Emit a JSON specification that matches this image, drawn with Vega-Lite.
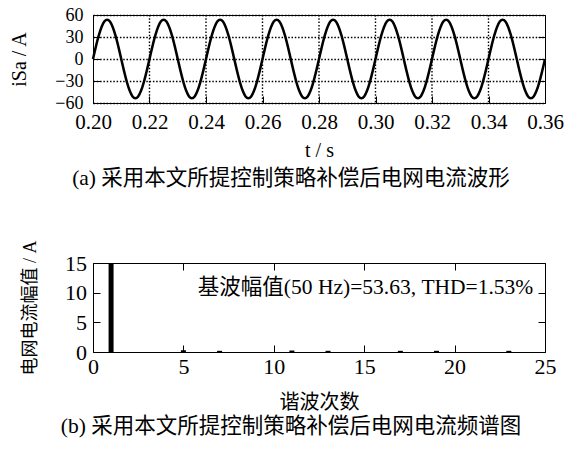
{
  "$schema": "https://vega.github.io/schema/vega-lite/v6.json",
  "padding": {"left": 9, "top": 5, "right": 5, "bottom": 5},
  "datasets": {
    "wave": [
      {"t":0.200,"i":0},{"t":0.201,"i":16.57},{"t":0.202,"i":31.52},{"t":0.203,"i":43.39},{"t":0.204,"i":51.01},{"t":0.205,"i":53.63},{"t":0.206,"i":51.01},{"t":0.207,"i":43.39},{"t":0.208,"i":31.52},{"t":0.209,"i":16.57},
      {"t":0.210,"i":0},{"t":0.211,"i":-16.57},{"t":0.212,"i":-31.52},{"t":0.213,"i":-43.39},{"t":0.214,"i":-51.01},{"t":0.215,"i":-53.63},{"t":0.216,"i":-51.01},{"t":0.217,"i":-43.39},{"t":0.218,"i":-31.52},{"t":0.219,"i":-16.57},
      {"t":0.220,"i":0},{"t":0.221,"i":16.57},{"t":0.222,"i":31.52},{"t":0.223,"i":43.39},{"t":0.224,"i":51.01},{"t":0.225,"i":53.63},{"t":0.226,"i":51.01},{"t":0.227,"i":43.39},{"t":0.228,"i":31.52},{"t":0.229,"i":16.57},
      {"t":0.230,"i":0},{"t":0.231,"i":-16.57},{"t":0.232,"i":-31.52},{"t":0.233,"i":-43.39},{"t":0.234,"i":-51.01},{"t":0.235,"i":-53.63},{"t":0.236,"i":-51.01},{"t":0.237,"i":-43.39},{"t":0.238,"i":-31.52},{"t":0.239,"i":-16.57},
      {"t":0.240,"i":0},{"t":0.241,"i":16.57},{"t":0.242,"i":31.52},{"t":0.243,"i":43.39},{"t":0.244,"i":51.01},{"t":0.245,"i":53.63},{"t":0.246,"i":51.01},{"t":0.247,"i":43.39},{"t":0.248,"i":31.52},{"t":0.249,"i":16.57},
      {"t":0.250,"i":0},{"t":0.251,"i":-16.57},{"t":0.252,"i":-31.52},{"t":0.253,"i":-43.39},{"t":0.254,"i":-51.01},{"t":0.255,"i":-53.63},{"t":0.256,"i":-51.01},{"t":0.257,"i":-43.39},{"t":0.258,"i":-31.52},{"t":0.259,"i":-16.57},
      {"t":0.260,"i":0},{"t":0.261,"i":16.57},{"t":0.262,"i":31.52},{"t":0.263,"i":43.39},{"t":0.264,"i":51.01},{"t":0.265,"i":53.63},{"t":0.266,"i":51.01},{"t":0.267,"i":43.39},{"t":0.268,"i":31.52},{"t":0.269,"i":16.57},
      {"t":0.270,"i":0},{"t":0.271,"i":-16.57},{"t":0.272,"i":-31.52},{"t":0.273,"i":-43.39},{"t":0.274,"i":-51.01},{"t":0.275,"i":-53.63},{"t":0.276,"i":-51.01},{"t":0.277,"i":-43.39},{"t":0.278,"i":-31.52},{"t":0.279,"i":-16.57},
      {"t":0.280,"i":0},{"t":0.281,"i":16.57},{"t":0.282,"i":31.52},{"t":0.283,"i":43.39},{"t":0.284,"i":51.01},{"t":0.285,"i":53.63},{"t":0.286,"i":51.01},{"t":0.287,"i":43.39},{"t":0.288,"i":31.52},{"t":0.289,"i":16.57},
      {"t":0.290,"i":0},{"t":0.291,"i":-16.57},{"t":0.292,"i":-31.52},{"t":0.293,"i":-43.39},{"t":0.294,"i":-51.01},{"t":0.295,"i":-53.63},{"t":0.296,"i":-51.01},{"t":0.297,"i":-43.39},{"t":0.298,"i":-31.52},{"t":0.299,"i":-16.57},
      {"t":0.300,"i":0},{"t":0.301,"i":16.57},{"t":0.302,"i":31.52},{"t":0.303,"i":43.39},{"t":0.304,"i":51.01},{"t":0.305,"i":53.63},{"t":0.306,"i":51.01},{"t":0.307,"i":43.39},{"t":0.308,"i":31.52},{"t":0.309,"i":16.57},
      {"t":0.310,"i":0},{"t":0.311,"i":-16.57},{"t":0.312,"i":-31.52},{"t":0.313,"i":-43.39},{"t":0.314,"i":-51.01},{"t":0.315,"i":-53.63},{"t":0.316,"i":-51.01},{"t":0.317,"i":-43.39},{"t":0.318,"i":-31.52},{"t":0.319,"i":-16.57},
      {"t":0.320,"i":0},{"t":0.321,"i":16.57},{"t":0.322,"i":31.52},{"t":0.323,"i":43.39},{"t":0.324,"i":51.01},{"t":0.325,"i":53.63},{"t":0.326,"i":51.01},{"t":0.327,"i":43.39},{"t":0.328,"i":31.52},{"t":0.329,"i":16.57},
      {"t":0.330,"i":0},{"t":0.331,"i":-16.57},{"t":0.332,"i":-31.52},{"t":0.333,"i":-43.39},{"t":0.334,"i":-51.01},{"t":0.335,"i":-53.63},{"t":0.336,"i":-51.01},{"t":0.337,"i":-43.39},{"t":0.338,"i":-31.52},{"t":0.339,"i":-16.57},
      {"t":0.340,"i":0},{"t":0.341,"i":16.57},{"t":0.342,"i":31.52},{"t":0.343,"i":43.39},{"t":0.344,"i":51.01},{"t":0.345,"i":53.63},{"t":0.346,"i":51.01},{"t":0.347,"i":43.39},{"t":0.348,"i":31.52},{"t":0.349,"i":16.57},
      {"t":0.350,"i":0},{"t":0.351,"i":-16.57},{"t":0.352,"i":-31.52},{"t":0.353,"i":-43.39},{"t":0.354,"i":-51.01},{"t":0.355,"i":-53.63},{"t":0.356,"i":-51.01},{"t":0.357,"i":-43.39},{"t":0.358,"i":-31.52},{"t":0.359,"i":-16.57},
      {"t":0.360,"i":0}
    ],
    "gridx": [
      {"t":0.22},{"t":0.24},{"t":0.26},{"t":0.28},{"t":0.30},{"t":0.32},{"t":0.34}
    ],
    "harm": [
      {"h":1,"a":53.63},{"h":5,"a":0.3},{"h":7,"a":0.2},{"h":11,"a":0.25},{"h":13,"a":0.2},{"h":17,"a":0.2},{"h":19,"a":0.2},{"h":23,"a":0.2}
    ],
    "note": [
      {"label": "基波幅值(50 Hz)=53.63, THD=1.53%"}
    ]
  },
  "bounds": "flush",
  "spacing": 160,
  "vconcat": [
    {
      "width": 452,
      "height": 88,
      "view": {"stroke": "black", "strokeWidth": 1},
      "title": {"text": "(a)  采用本文所提控制策略补偿后电网电流波形", "orient": "bottom", "anchor": "middle", "dx": -28, "offset": 8, "fontSize": 21.5, "fontWeight": "normal", "font": "Liberation Serif, Times New Roman, DejaVu Serif, Noto Sans CJK SC, serif", "color": "black"},
      "layer": [
        {
          "data": {"name": "gridx"},
          "mark": {"type": "rule", "color": "black", "strokeWidth": 1.4, "strokeDash": [1.5, 1.8]},
          "encoding": {
            "x": {"field": "t", "type": "quantitative"}
          }
        },
        {
          "data": {"name": "wave"},
          "mark": {"type": "line", "color": "black", "strokeWidth": 2.5, "interpolate": "monotone"},
          "encoding": {
            "x": {"field": "t", "type": "quantitative", "scale": {"domain": [0.2, 0.36], "nice": false, "zero": false},
                  "axis": {"values": [0.2,0.22,0.24,0.26,0.28,0.3,0.32,0.34,0.36], "format": ".2f", "title": "t / s", "grid": false, "labelFontSize": 21, "labelPadding": 15, "titlePadding": 8}},
            "y": {"field": "i", "type": "quantitative", "scale": {"domain": [-60, 60], "nice": false},
                  "axis": {"values": [-60,-30,0,30,60], "title": "iSa / A", "grid": true, "labelFontSize": 18, "labelPadding": 17, "titlePadding": 25}}
          }
        },
        {
          "data": {"name": "wave"},
          "mark": {"type": "line", "opacity": 0},
          "encoding": {
            "x": {"field": "t", "type": "quantitative"},
            "y": {"field": "i", "type": "quantitative", "axis": {"orient": "right", "values": [-60,-30,0,30,60], "labels": false, "title": null, "grid": false}}
          }
        }
      ],
      "resolve": {"axis": {"y": "independent"}}
    },
    {
      "width": 452,
      "height": 89,
      "title": {"text": "(b)  采用本文所提控制策略补偿后电网电流频谱图", "orient": "bottom", "anchor": "middle", "dx": -28, "offset": 4, "fontSize": 21.5, "fontWeight": "normal", "font": "Liberation Serif, Times New Roman, DejaVu Serif, Noto Sans CJK SC, serif", "color": "black"},
      "layer": [
        {
          "data": {"name": "harm"},
          "mark": {"type": "bar", "color": "black", "size": 5, "clip": true},
          "encoding": {
            "x": {"field": "h", "type": "quantitative", "scale": {"domain": [0, 25], "nice": false, "padding": 0},
                  "axis": {"values": [0,5,10,15,20,25], "title": "谐波次数", "grid": false, "labelFontSize": 22, "labelPadding": 11, "titleFontSize": 20, "titlePadding": 15}},
            "y": {"field": "a", "type": "quantitative", "scale": {"domain": [0, 15], "nice": false, "padding": 0},
                  "axis": {"values": [0,5,10,15], "title": "电网电流幅值 / A", "grid": false, "labelFontSize": 22, "labelPadding": 13.5, "titleFontSize": 18, "titlePadding": 25}}
          }
        },
        {
          "data": {"name": "harm"},
          "mark": {"type": "bar", "opacity": 0, "size": 5, "clip": true},
          "encoding": {
            "x": {"field": "h", "type": "quantitative", "axis": {"orient": "top", "values": [0,5,10,15,20,25], "labels": false, "title": null, "grid": false}},
            "y": {"field": "a", "type": "quantitative", "axis": {"orient": "right", "values": [0,5,10,15], "labels": false, "title": null, "grid": false}}
          }
        },
        {
          "data": {"name": "note"},
          "mark": {"type": "text", "align": "right", "baseline": "middle", "fontSize": 21.5, "font": "Liberation Serif, Times New Roman, DejaVu Serif, Noto Sans CJK SC, serif", "color": "black"},
          "encoding": {
            "text": {"field": "label"},
            "x": {"datum": 24.35, "type": "quantitative", "axis": null},
            "y": {"datum": 10.8, "type": "quantitative", "axis": null}
          }
        }
      ],
      "resolve": {"axis": {"x": "independent", "y": "independent"}}
    }
  ],
  "config": {
    "view": {"stroke": null},
    "axis": {
      "domainColor": "black", "domainWidth": 1,
      "tickColor": "black", "tickSize": -7, "tickWidth": 1,
      "labelFlush": false, "labelOverlap": false,
      "labelFont": "Liberation Serif, Times New Roman, DejaVu Serif, serif", "labelFontSize": 18, "labelColor": "black", "labelPadding": 10,
      "titleFont": "Liberation Serif, Times New Roman, DejaVu Serif, Noto Sans CJK SC, serif", "titleFontSize": 20, "titleFontWeight": "normal", "titleColor": "black",
      "gridColor": "black", "gridDash": [1.5, 1.8], "gridOpacity": 1, "gridWidth": 1.4
    }
  }
}
